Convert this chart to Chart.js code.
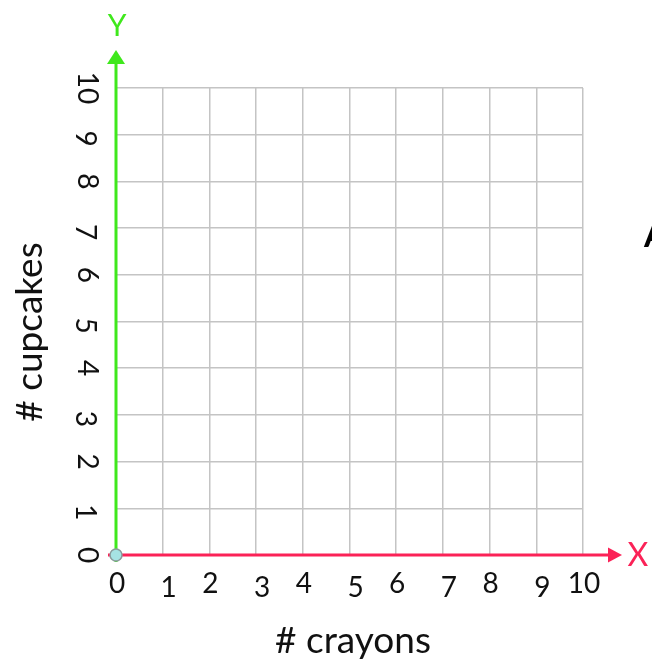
<!DOCTYPE html>
<html>
<head>
<meta charset="utf-8">
<script src="https://cdn.jsdelivr.net/npm/chart.js@4"></script>
<style>
  html, body { margin: 0; padding: 0; background: #fff; }
  #wrap { width: 652px; height: 663px; }
</style>
</head>
<body>
<div id="wrap"><canvas id="myChart"></canvas></div>
<script>
// values
const xValues = [0, 1, 2, 3, 4, 5, 6, 7, 8, 9, 10];
const yValues = [0, 1, 2, 3, 4, 5, 6, 7, 8, 9, 10];
const xTitle = '# crayons';
const yTitle = '# cupcakes';
const xAxisName = 'X';
const yAxisName = 'Y';
const sideText = 'A';
const originPoint = [{ x: 0, y: 0 }];

const green = '#3fe81c';
const red = '#fb2257';
const font = 'Lato, "Open Sans", sans-serif';

const axesPlugin = {
  id: 'axes',
  beforeDatasetsDraw(chart) {
    const ctx = chart.ctx;
    const xs = chart.scales.x, ys = chart.scales.y;
    const x0 = xs.getPixelForValue(xValues[0]);
    const y0 = ys.getPixelForValue(yValues[0]);
    const xEnd = xs.getPixelForValue(xValues[xValues.length - 1]);
    const yEnd = ys.getPixelForValue(yValues[yValues.length - 1]);
    ctx.save();
    // y axis with arrow
    ctx.strokeStyle = green;
    ctx.fillStyle = green;
    ctx.lineWidth = 3;
    ctx.beginPath();
    ctx.moveTo(x0, y0 + 7);
    ctx.lineTo(x0, yEnd - 26);
    ctx.stroke();
    ctx.beginPath();
    ctx.moveTo(x0, yEnd - 38);
    ctx.lineTo(x0 - 9, yEnd - 24);
    ctx.lineTo(x0 + 9, yEnd - 24);
    ctx.closePath();
    ctx.fill();
    // x axis with arrow
    ctx.strokeStyle = red;
    ctx.fillStyle = red;
    ctx.beginPath();
    ctx.moveTo(x0 - 8, y0);
    ctx.lineTo(xEnd + 27, y0);
    ctx.stroke();
    ctx.beginPath();
    ctx.moveTo(xEnd + 39, y0);
    ctx.lineTo(xEnd + 25, y0 - 7.5);
    ctx.lineTo(xEnd + 25, y0 + 7.5);
    ctx.closePath();
    ctx.fill();
    ctx.restore();
  },
  afterDraw(chart) {
    const ctx = chart.ctx;
    const xs = chart.scales.x, ys = chart.scales.y;
    const x0 = xs.getPixelForValue(0);
    const y0 = ys.getPixelForValue(0);
    const yEnd = ys.getPixelForValue(10);
    ctx.save();
    ctx.textAlign = 'center';
    ctx.textBaseline = 'middle';

    ctx.fillStyle = green;
    ctx.font = '30px ' + font;
    ctx.fillText(yAxisName, x0 + 1, yEnd - 62);
    ctx.fillStyle = red;
    ctx.font = '32px ' + font;
    ctx.fillText(xAxisName, 638, y0 + 1);

    // tick labels, odd ones sit a little lower like in the picture
    ctx.fillStyle = '#111';
    ctx.font = '28px ' + font;
    xValues.forEach(v => {
      const odd = v % 2 === 1;
      ctx.fillText(String(v), xs.getPixelForValue(v) + (odd ? 6 : 1), y0 + 29 + (odd ? 4 : 0));
    });
    yValues.forEach(v => {
      const odd = v % 2 === 1;
      ctx.save();
      ctx.translate(87 - (odd ? 2 : 0), ys.getPixelForValue(v) + (odd ? 4 : 0));
      ctx.rotate(Math.PI / 2);
      ctx.fillText(String(v), 0, 0);
      ctx.restore();
    });

    ctx.font = '37px ' + font;
    ctx.textBaseline = 'alphabetic';
    ctx.fillText(xTitle, 353, 653);
    ctx.save();
    ctx.translate(42, 332);
    ctx.rotate(-Math.PI / 2);
    ctx.fillText(yTitle, 0, 0);
    ctx.restore();

    ctx.font = 'bold 34px ' + font;
    ctx.textAlign = 'left';
    ctx.fillStyle = '#000';
    ctx.fillText(sideText, 644, 247);
    ctx.restore();
  }
};

const ctx = document.getElementById('myChart').getContext('2d');
new Chart(ctx, {
  type: 'scatter',
  data: {
    datasets: [{
      data: originPoint,
      pointRadius: 6,
      pointBackgroundColor: '#a6e3e3',
      pointBorderColor: '#8a9c9c',
      pointBorderWidth: 1.5,
      clip: false
    }]
  },
  options: {
    responsive: true,
    maintainAspectRatio: false,
    animation: false,
    layout: { padding: { left: 116, top: 88, right: 69, bottom: 108 } },
    plugins: { legend: { display: false }, tooltip: { enabled: false } },
    scales: {
      x: {
        type: 'linear', min: 0, max: 10,
        ticks: { display: false, stepSize: 1 },
        grid: { color: '#c4c4c4', lineWidth: 1.5, drawTicks: false },
        border: { display: false }
      },
      y: {
        type: 'linear', min: 0, max: 10,
        ticks: { display: false, stepSize: 1 },
        grid: { color: '#c4c4c4', lineWidth: 1.5, drawTicks: false },
        border: { display: false }
      }
    }
  },
  plugins: [axesPlugin]
});
</script>
</body>
</html>
